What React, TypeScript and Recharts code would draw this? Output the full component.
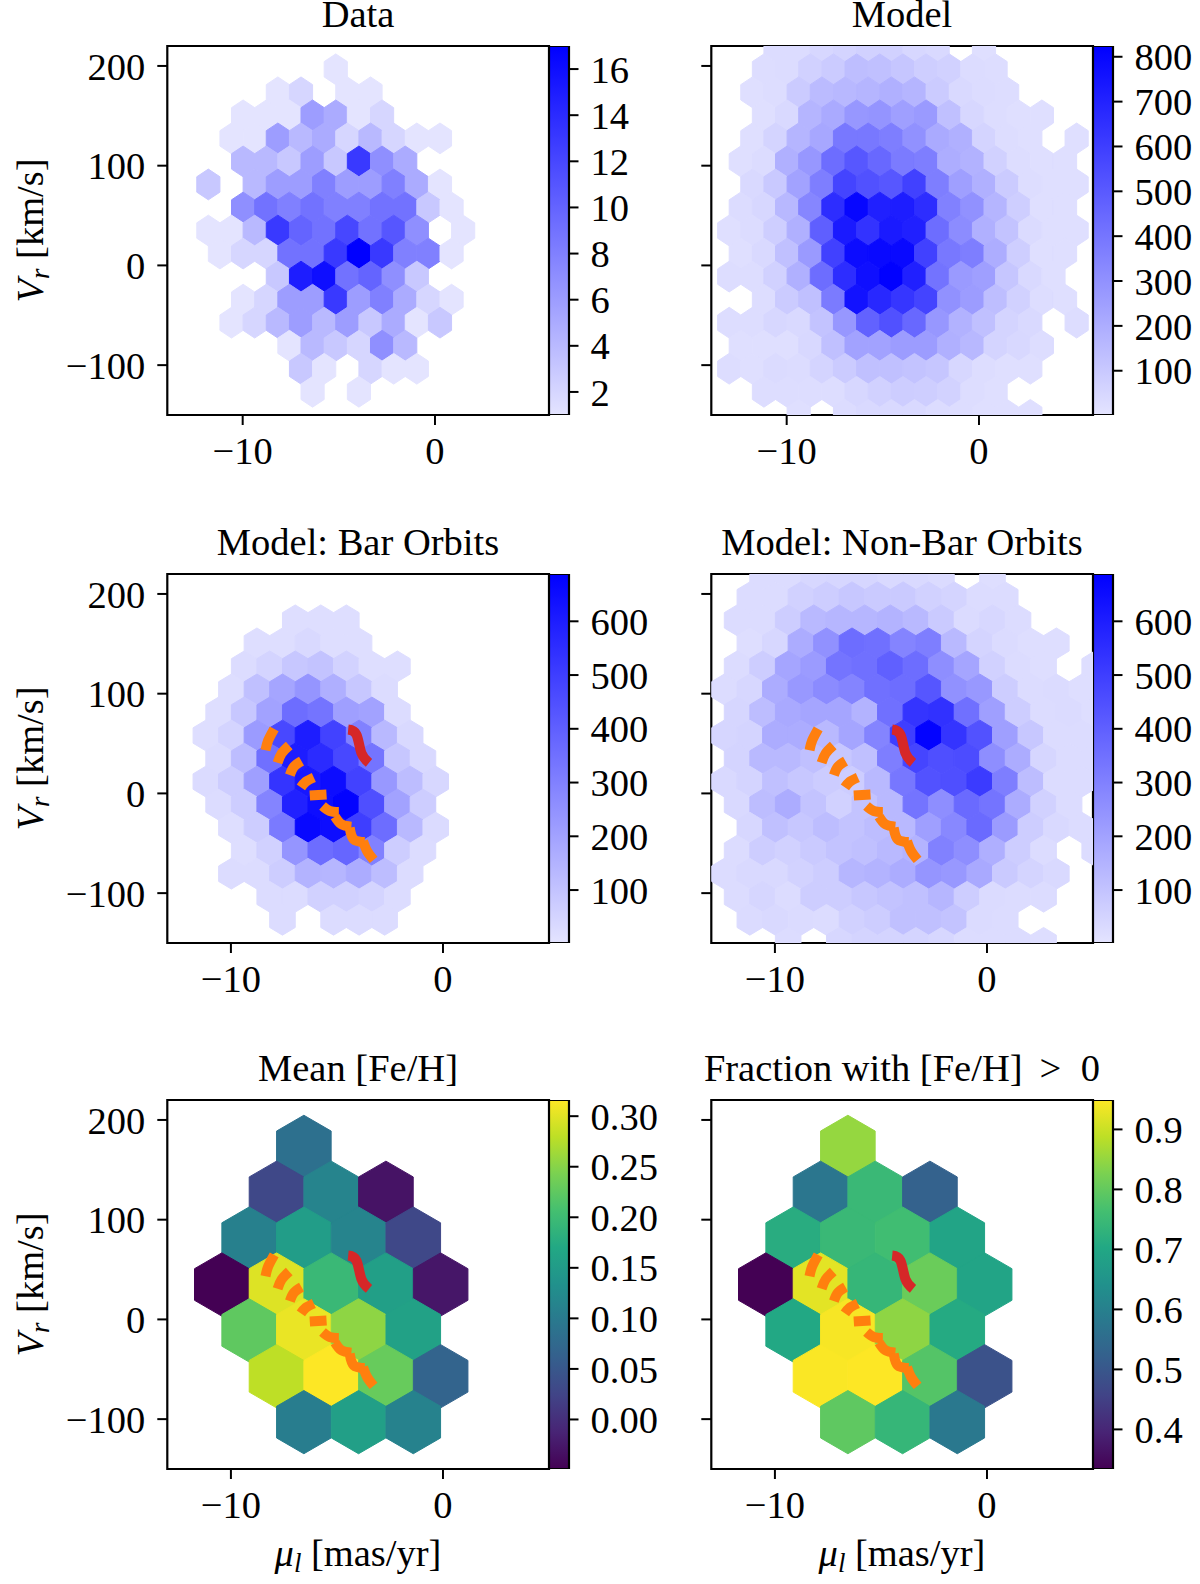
import { Bar, BarChart, ReferenceArea, Scatter, ScatterChart, XAxis, YAxis } from 'recharts'

const FONT = '"Liberation Serif", serif'
const FS = 38.5

// hex lattice of the fine panels: column k, row r
const FINE_X0 = -11.785
const FINE_DK = 0.6023
const FINE_Y0 = 196.67
const FINE_DY = 23.1

const dataFirstCol = [11, 6, 3, 2, 3, 0, 3, 0, 1, 6, 3, 2, 7, 8, 9]
const dataCounts = [
  [1],
  [1, 2, 0, 1, 1],
  [1, 1, 1, 6, 5, 1, 2],
  [1, 1, 6, 4, 5, 2, 4, 2, 1, 1],
  [4, 4, 3, 6, 3, 13, 7, 5],
  [3, 0, 4, 6, 6, 8, 6, 6, 8, 5, 1],
  [7, 9, 8, 9, 8, 8, 9, 9, 3, 1],
  [1, 1, 4, 13, 10, 9, 12, 9, 11, 7, 0, 1],
  [1, 2, 2, 9, 9, 13, 17, 13, 8, 8, 1],
  [3, 15, 16, 9, 10, 7, 3],
  [1, 2, 6, 6, 13, 6, 8, 5, 2, 1],
  [1, 2, 4, 6, 4, 6, 3, 5, 1, 3],
  [1, 4, 3, 2, 7, 4],
  [3, 1, 0, 2, 1, 1],
  [1, 0, 1],
]

const modelFirstCol = [2, 1, 0, 1, 0, -1, 0, -1, -2, -1, -2, 1, -2, -1, -2, 1, 4]
const modelCounts = [
  [30, 30, 50, 60, 70, 70, 50, 40, 0, 20],
  [25, 30, 70, 90, 140, 130, 110, 80, 70, 30, 25],
  [20, 25, 90, 150, 160, 170, 190, 170, 90, 40, 30, 25],
  [20, 40, 170, 210, 280, 290, 250, 270, 130, 50, 25, 20, 20],
  [20, 60, 170, 220, 390, 390, 370, 300, 210, 190, 60, 25, 20, 0, 20],
  [20, 30, 190, 280, 430, 510, 450, 380, 370, 200, 180, 70, 25, 20, 20],
  [40, 100, 240, 370, 580, 530, 510, 590, 370, 250, 190, 90, 25, 20, 20],
  [30, 50, 160, 340, 660, 800, 710, 720, 660, 360, 300, 170, 80, 20, 20],
  [20, 30, 80, 190, 480, 730, 640, 730, 710, 430, 320, 190, 120, 35, 20, 20],
  [20, 40, 130, 270, 590, 780, 790, 790, 590, 390, 370, 200, 80, 20, 20],
  [25, 25, 70, 190, 430, 660, 770, 820, 710, 410, 270, 250, 110, 40, 20],
  [25, 90, 130, 380, 760, 680, 630, 580, 300, 260, 140, 70, 25, 20],
  [25, 25, 50, 40, 120, 280, 470, 530, 450, 280, 180, 130, 60, 40, 0, 25],
  [20, 20, 20, 45, 130, 240, 240, 260, 260, 190, 160, 60, 45, 25],
  [25, 20, 35, 30, 60, 90, 130, 130, 120, 110, 50, 25, 20, 20],
  [25, 25, 25, 25, 50, 70, 85, 80, 65, 25, 20],
  [20, 0, 30, 40, 40, 40, 30, 25, 20, 20, 20],
]

const barFirstCol = [8, 5, 4, 3, 2, 1, 2, 1, 2, 3, 4, 3, 6, 7]
const barCounts = [
  [20, 20, 20],
  [20, 20, 35, 20, 20],
  [25, 50, 90, 100, 55, 20, 20],
  [20, 110, 190, 240, 160, 90, 25],
  [20, 90, 200, 360, 340, 210, 200, 25],
  [20, 50, 220, 470, 600, 490, 300, 130, 35],
  [25, 120, 350, 600, 560, 470, 340, 90, 35],
  [30, 70, 210, 530, 620, 650, 490, 230, 120, 40],
  [25, 70, 290, 590, 650, 680, 450, 200, 70],
  [20, 70, 320, 665, 650, 500, 360, 130, 30],
  [20, 60, 240, 360, 380, 300, 70, 25],
  [25, 25, 70, 150, 140, 170, 120, 25],
  [25, 25, 60, 60, 50, 25],
  [25, 0, 25, 25, 25],
]

const nonBarFirstCol = [2, 1, 0, 1, 0, -1, 0, -1, 0, -1, 0, 1, 0, -1, 0, 1, 4]
const nonBarCounts = [
  [25, 25, 40, 45, 45, 35, 35, 30, 0, 20],
  [25, 25, 60, 70, 90, 80, 80, 60, 50, 25, 25],
  [25, 25, 70, 130, 140, 140, 150, 130, 80, 30, 40, 25],
  [20, 40, 170, 250, 360, 350, 290, 310, 130, 50, 30, 20, 20],
  [25, 70, 190, 220, 340, 350, 400, 360, 260, 190, 60, 25, 20, 0, 20],
  [25, 40, 170, 230, 270, 290, 350, 360, 430, 250, 230, 70, 25, 30, 20],
  [45, 120, 180, 190, 190, 150, 350, 530, 540, 350, 210, 70, 25, 30, 20],
  [45, 50, 170, 170, 130, 190, 290, 500, 680, 530, 440, 210, 90, 25, 25],
  [50, 130, 130, 110, 90, 110, 310, 480, 450, 460, 260, 170, 45, 25, 25],
  [35, 50, 110, 90, 75, 70, 130, 330, 440, 450, 510, 310, 120, 25, 25],
  [35, 120, 170, 100, 60, 100, 130, 340, 260, 370, 340, 170, 60, 25],
  [40, 110, 90, 120, 100, 120, 130, 210, 280, 370, 220, 70, 35, 25],
  [25, 70, 60, 80, 100, 110, 130, 150, 300, 260, 160, 70, 25, 0, 25],
  [25, 35, 35, 55, 70, 140, 150, 170, 240, 230, 180, 80, 50, 35],
  [25, 45, 25, 70, 70, 90, 100, 110, 140, 70, 30, 25, 25],
  [30, 35, 30, 25, 60, 70, 110, 110, 100, 30, 25],
  [25, 0, 40, 50, 50, 50, 40, 25, 25, 25, 20],
]

// coarse hexes of the metallicity panels
const coarseX = [-10.43, -9.14, -7.85, -6.56, -5.27, -3.98, -2.69, -1.4, -0.11]
const coarseY = [173, 127, 81, 35, -11, -57, -103]
const coarseCols = [[3], [2, 4, 6], [1, 3, 5, 7], [0, 2, 4, 6, 8], [1, 3, 5, 7], [2, 4, 6, 8], [3, 5, 7]]
const meanFeH = [
  [0.086],
  [0.03, 0.115, -0.03],
  [0.108, 0.152, 0.115, 0.03],
  [-0.049, 0.298, 0.196, 0.155, -0.027],
  [0.225, 0.305, 0.254, 0.159],
  [0.28, 0.316, 0.23, 0.068],
  [0.104, 0.155, 0.112],
]
const fracFeH = [
  [0.851],
  [0.574, 0.746, 0.525],
  [0.715, 0.746, 0.758, 0.691],
  [0.334, 0.924, 0.74, 0.808, 0.691],
  [0.703, 0.943, 0.844, 0.709],
  [0.946, 0.949, 0.783, 0.49],
  [0.795, 0.74, 0.58],
]

// the two orbit tracks, [mu_l, V_r]
const orangeDashes = [
  [[-8.37, 43.3], [-8.24, 53.3], [-7.96, 64.7]],
  [[-7.8, 30.7], [-7.61, 40], [-7.25, 48]],
  [[-7.22, 18.3], [-7.03, 26.7], [-6.67, 32.3]],
  [[-6.7, 6], [-6.47, 11.7], [-6.09, 16]],
  [[-6.28, -2], [-5.49, -1]],
  [[-5.68, -12.7], [-5.34, -17.7], [-4.91, -18.7]],
  [[-5.09, -23.3], [-4.79, -31], [-4.32, -33.3]],
  [[-4.4, -34.3], [-4.21, -46], [-3.69, -48.7]],
  [[-3.77, -47.7], [-3.58, -57.7], [-3.27, -66.7]],
]
const redTrack = [[-4.47, 64], [-4.08, 59], [-3.85, 40.7], [-3.49, 30.7]]

const yTicks = [-100, 0, 100, 200]
const viridis = ['#440154', '#482475', '#414487', '#355f8d', '#2a788e', '#21918c', '#22a884', '#44bf70', '#7ad151', '#bddf26', '#fde725']
const blues = ['#e4e4ff', '#0000ff']

const PLOT_W = 381.7
const PLOT_H = 369
const CHART_H = 550
const TOP = 60

const hex2 = (c: string) => [1, 3, 5].map((i) => parseInt(c.slice(i, i + 2), 16))
function colorAt(stops: string[], t: number) {
  const p = Math.max(0, Math.min(1, t)) * (stops.length - 1)
  const i = Math.min(Math.floor(p), stops.length - 2)
  const a = hex2(stops[i])
  const b = hex2(stops[i + 1])
  const f = p - i
  return `rgb(${a.map((v, j) => Math.round(v + (b[j] - v) * f)).join(',')})`
}

function fineCells(firstCol: number[], counts: number[][], firstRow: number) {
  const out: { x: number; y: number; value: number }[] = []
  counts.forEach((row, i) => {
    row.forEach((value, j) => {
      if (value > 0) {
        out.push({
          x: FINE_X0 + (firstCol[i] + 2 * j) * FINE_DK,
          y: FINE_Y0 - (firstRow + i) * FINE_DY,
          value,
        })
      }
    })
  })
  return out
}

function coarseCells(values: number[][]) {
  const out: { x: number; y: number; value: number }[] = []
  values.forEach((row, i) => {
    row.forEach((value, j) => {
      out.push({ x: coarseX[coarseCols[i][j]], y: coarseY[i], value })
    })
  })
  return out
}

const fmt = (v: number) => String(v).replace('-', '\u2212')
const toPts = (pts: number[][]) => pts.map(([x, y]) => ({ x, y }))
const noDot = () => <g />

interface PanelProps {
  left: number
  top: number
  title: string
  cells: { x: number; y: number; value: number }[]
  xDomain: number[]
  xTicks: number[]
  hexW: number
  hexH: number
  stops: string[]
  vmin: number
  vmax: number
  cbTicks: number[]
  cbDigits: number
  yLabels: boolean
  xLabel?: boolean
  tracks?: boolean
  gradId: string
}

function Panel(p: PanelProps) {
  const pxX = PLOT_W / (p.xDomain[1] - p.xDomain[0])
  const pxY = PLOT_H / 370
  const hw = (p.hexW / 2) * pxX
  const hh = p.hexH * pxY
  const Hex = (s: any) => {
    const { cx, cy, payload } = s
    const fill = colorAt(p.stops, (payload.value - p.vmin) / (p.vmax - p.vmin))
    const pts = [
      [cx + hw, cy - hh / 2],
      [cx + hw, cy + hh / 2],
      [cx, cy + hh],
      [cx - hw, cy + hh / 2],
      [cx - hw, cy - hh / 2],
      [cx, cy - hh],
    ]
    return <polygon points={pts.map((q) => q.join(',')).join(' ')} fill={fill} stroke={fill} strokeWidth={1} />
  }
  const tickStyle = { fill: '#000', fontFamily: FONT, fontSize: FS }
  const line = { stroke: '#000', strokeWidth: 2 }
  const cy = TOP + PLOT_H / 2
  const [titleA, titleB] = p.title.split(' > ')
  return (
    <div style={{ position: 'absolute', left: p.left, top: p.top }}>
      <div style={{ position: 'absolute', left: 0, top: 0 }}>
        <ScatterChart width={560} height={CHART_H} margin={{ top: TOP, right: 560 - 167.3 - PLOT_W, bottom: 0, left: 0 }}>
          <XAxis
            type="number"
            dataKey="x"
            domain={p.xDomain}
            ticks={p.xTicks}
            interval={0}
            allowDataOverflow
            height={CHART_H - TOP - PLOT_H}
            axisLine={false}
            tickLine={line}
            tickSize={10}
            tickMargin={12}
            tick={tickStyle}
            tickFormatter={fmt}
          />
          <YAxis
            type="number"
            dataKey="y"
            domain={[-150, 220]}
            ticks={yTicks}
            interval={0}
            allowDataOverflow
            width={167.3}
            axisLine={false}
            tickLine={line}
            tickSize={10}
            tickMargin={12}
            tick={tickStyle}
            tickFormatter={p.yLabels ? fmt : () => ''}
          />
          <Scatter data={p.cells} shape={Hex} isAnimationActive={false} />
          {p.tracks &&
            orangeDashes.map((d, i) => (
              <Scatter
                key={i}
                data={toPts(d)}
                line={{ stroke: '#ff7f0e', strokeWidth: 10 }}
                lineJointType="natural"
                shape={noDot}
                isAnimationActive={false}
              />
            ))}
          {p.tracks && (
            <Scatter
              data={toPts(redTrack)}
              line={{ stroke: '#d62728', strokeWidth: 10 }}
              lineJointType="natural"
              shape={noDot}
              isAnimationActive={false}
            />
          )}
          <ReferenceArea
            x1={p.xDomain[0]}
            x2={p.xDomain[1]}
            y1={-150}
            y2={220}
            fill="none"
            fillOpacity={0}
            stroke="#000"
            strokeWidth={2.2}
            ifOverflow="visible"
          />
          <text x={358} y={TOP - 19.5} textAnchor="middle" fontFamily={FONT} fontSize={FS} fill="#000">
            {titleA}
            {titleB !== undefined && <tspan dx={17}>{'> '}</tspan>}
            {titleB !== undefined && <tspan dx={10}>{titleB}</tspan>}
          </text>
          {p.yLabels && (
            <text
              x={43}
              y={cy}
              transform={`rotate(-90 43 ${cy})`}
              textAnchor="middle"
              fontFamily={FONT}
              fontSize={FS}
              fill="#000"
            >
              <tspan fontStyle="italic">V</tspan>
              <tspan fontStyle="italic" fontSize={27} dy={6}>r</tspan>
              <tspan dy={-6}> [km/s]</tspan>
            </text>
          )}
          {p.xLabel && (
            <text x={358} y={TOP + PLOT_H + 97} textAnchor="middle" fontFamily={FONT} fontSize={FS} fill="#000">
              <tspan fontStyle="italic">{'\u03bc'}</tspan>
              <tspan fontStyle="italic" fontSize={27} dy={6}>l</tspan>
              <tspan dy={-6}> [mas/yr]</tspan>
            </text>
          )}
        </ScatterChart>
      </div>
      <div style={{ position: 'absolute', left: 167.3 + PLOT_W, top: 0 }}>
        <BarChart
          width={120}
          height={CHART_H}
          data={[{ name: 'cb', range: [p.vmin, p.vmax] }]}
          margin={{ top: TOP, right: 0, bottom: CHART_H - TOP - PLOT_H, left: 0 }}
          barCategoryGap={0}
        >
          <defs>
            <linearGradient id={p.gradId} x1="0" y1="1" x2="0" y2="0">
              {p.stops.map((c, i) => (
                <stop key={i} offset={i / (p.stops.length - 1)} stopColor={c} />
              ))}
            </linearGradient>
          </defs>
          <XAxis dataKey="name" hide />
          <YAxis
            orientation="right"
            type="number"
            domain={[p.vmin, p.vmax]}
            ticks={p.cbTicks}
            interval={0}
            allowDataOverflow
            width={100.5}
            axisLine={false}
            tickLine={line}
            tickSize={10}
            tickMargin={12}
            tick={tickStyle}
            tickFormatter={(v: number) => v.toFixed(p.cbDigits)}
          />
          <Bar dataKey="range" fill={`url(#${p.gradId})`} stroke="#000" strokeWidth={2.2} isAnimationActive={false} />
        </BarChart>
      </div>
    </div>
  )
}

const fineWide = { xDomain: [-13.92, 5.93], xTicks: [-10, 0], hexW: 1.2046, hexH: 15.4, stops: blues }
const fineBar = { xDomain: [-13, 5], xTicks: [-10, 0], hexW: 1.2046, hexH: 15.4, stops: blues }
const coarse = { xDomain: [-13, 5], xTicks: [-10, 0], hexW: 2.574, hexH: 31.7, stops: viridis, tracks: true }

export default function App() {
  return (
    <div style={{ position: 'absolute', left: 0, top: 0, width: 1200, height: 1584, background: '#fff', overflow: 'hidden' }}>
      <Panel left={0} top={-14} title="Data" cells={fineCells(dataFirstCol, dataCounts, 0)} {...fineWide}
        vmin={1} vmax={17} cbTicks={[2, 4, 6, 8, 10, 12, 14, 16]} cbDigits={0} yLabels gradId="g1" />
      <Panel left={544} top={-14} title="Model" cells={fineCells(modelFirstCol, modelCounts, -1)} {...fineWide}
        vmin={1.3} vmax={824} cbTicks={[100, 200, 300, 400, 500, 600, 700, 800]} cbDigits={0} yLabels={false} gradId="g2" />
      <Panel left={0} top={513.5} title="Model: Bar Orbits" cells={fineCells(barFirstCol, barCounts, 1)} {...fineBar} tracks
        vmin={1.5} vmax={688} cbTicks={[100, 200, 300, 400, 500, 600]} cbDigits={0} yLabels gradId="g3" />
      <Panel left={544} top={513.5} title="Model: Non-Bar Orbits" cells={fineCells(nonBarFirstCol, nonBarCounts, -1)} {...fineBar} tracks
        vmin={1.5} vmax={688} cbTicks={[100, 200, 300, 400, 500, 600]} cbDigits={0} yLabels={false} gradId="g4" />
      <Panel left={0} top={1040} title="Mean [Fe/H]" cells={coarseCells(meanFeH)} {...coarse}
        vmin={-0.049} vmax={0.316} cbTicks={[0, 0.05, 0.1, 0.15, 0.2, 0.25, 0.3]} cbDigits={2} yLabels xLabel gradId="g5" />
      <Panel left={544} top={1040} title="Fraction with [Fe/H] > 0" cells={coarseCells(fracFeH)} {...coarse}
        vmin={0.334} vmax={0.949} cbTicks={[0.4, 0.5, 0.6, 0.7, 0.8, 0.9]} cbDigits={1} yLabels={false} xLabel gradId="g6" />
    </div>
  )
}
